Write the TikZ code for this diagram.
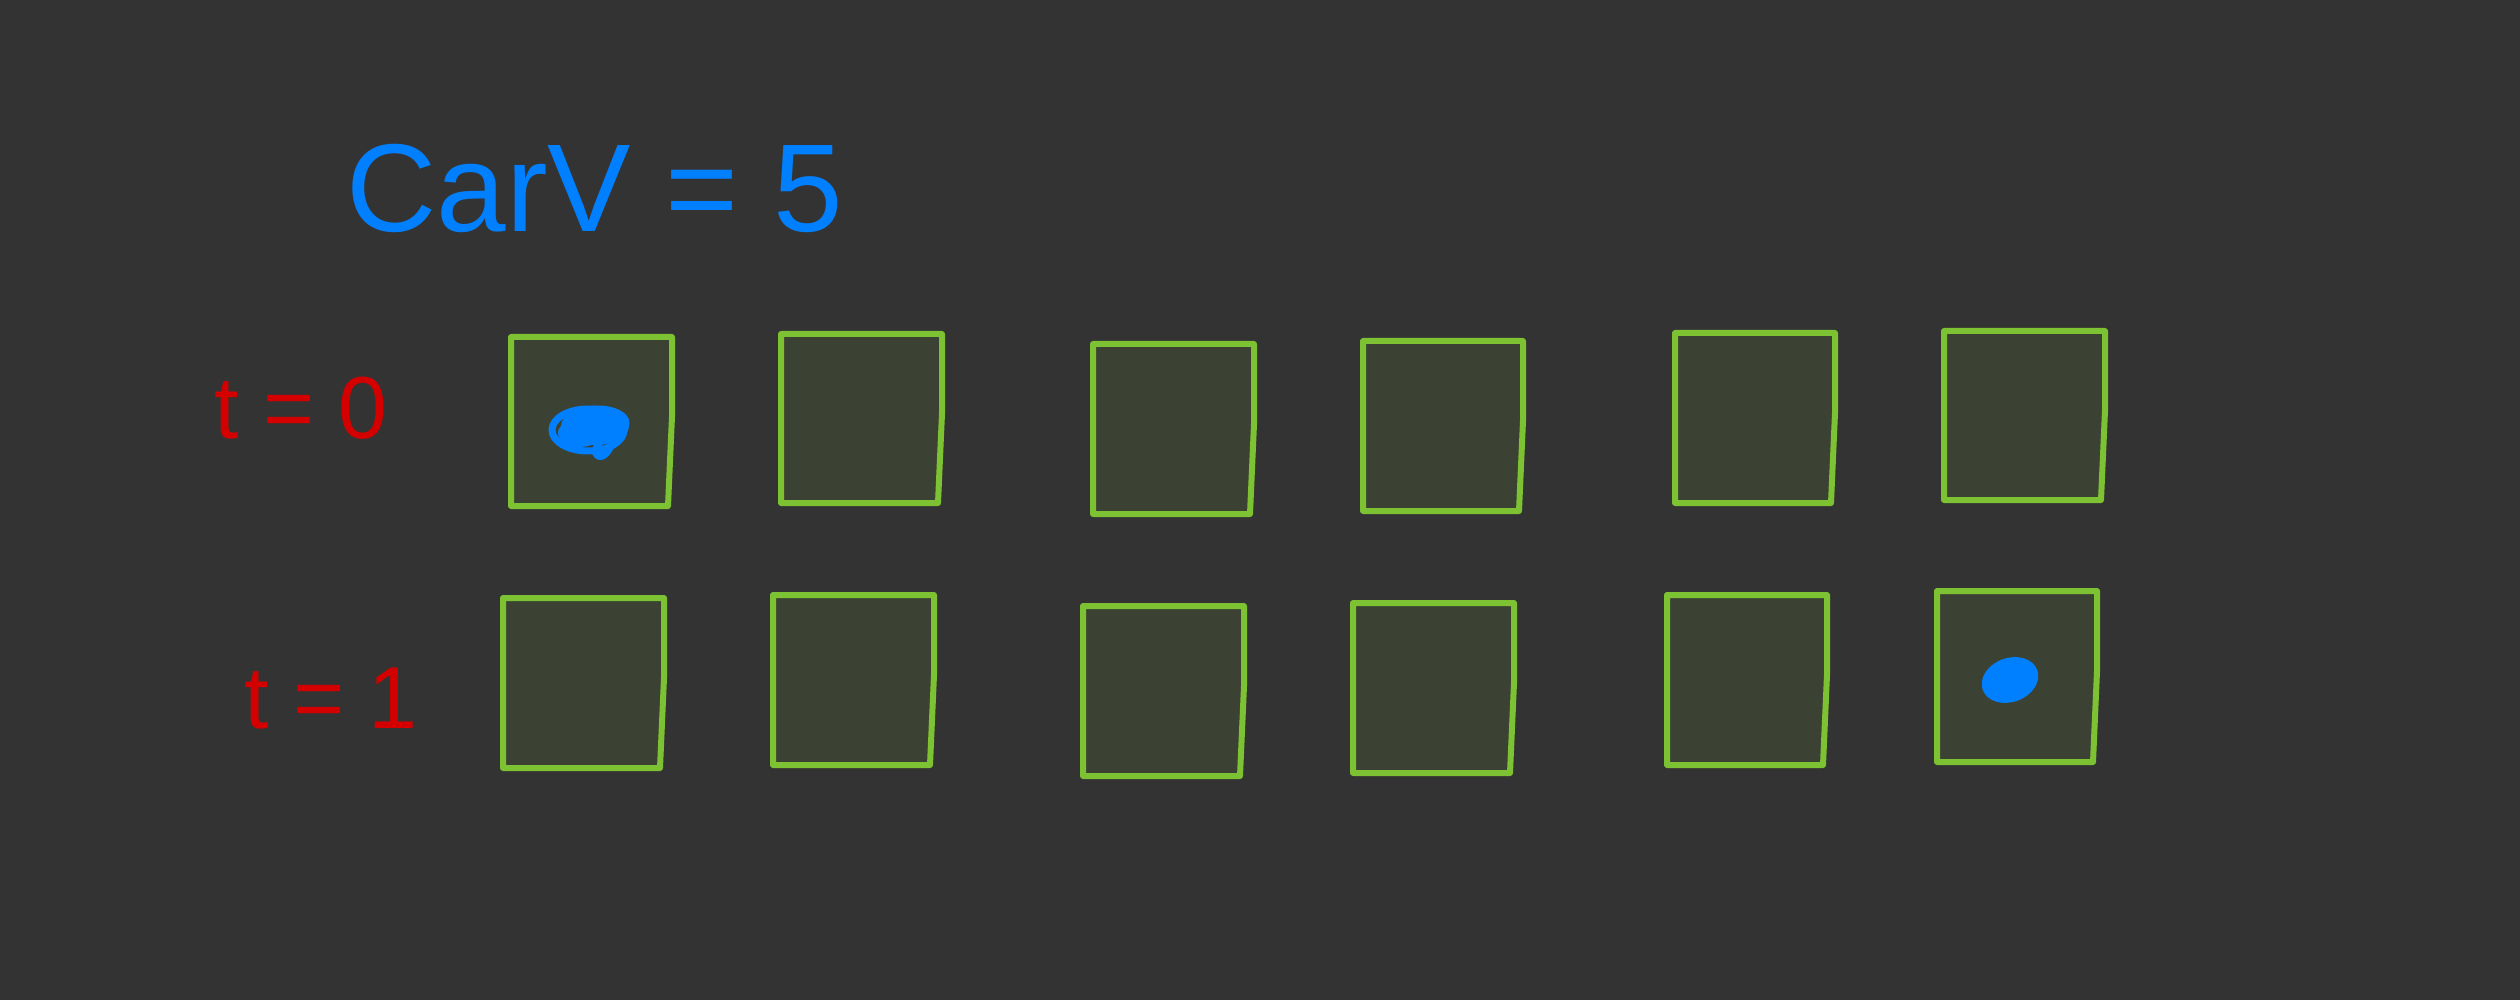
\documentclass[tikz,border=0pt]{standalone}
\usepackage{fontspec}
\setmainfont{Liberation Sans}
\definecolor{bg}{HTML}{333333}
\definecolor{cellfill}{HTML}{3C4233}
\definecolor{cellline}{HTML}{7DC232}
\definecolor{carblue}{HTML}{0080FF}
\definecolor{tred}{HTML}{D40000}
\newcommand\cellbox[5]{%
  \draw[cell] (#2,#3) -- (#4,#3) -- (#4,{#3+0.47*(#5-#3)}) -- ({#4-4},#5) -- (#2,#5) -- cycle;
  \coordinate (#1) at ({(#2+#4)/2},{(#3+#5)/2});
}
\begin{document}
\begin{tikzpicture}[x=1pt,y=-1pt,
  cell/.style={draw=cellline, fill=cellfill, line width=6pt, line join=round, line cap=round},
  scrib/.style={draw=carblue, line width=7pt, line cap=round, line join=round},
  bigtext/.style={text=carblue, font=\fontsize{125}{150}\selectfont, inner sep=0pt},
  rowlabel/.style={text=tred, font=\fontsize{88}{100}\selectfont, inner sep=0pt}]
\fill[bg] (0,0) rectangle (2520,1000);
\useasboundingbox (0,0) rectangle (2520,1000);
% title
\node[bigtext] (title) at (595,188) {CarV = 5};
% row labels
\node[rowlabel] (t0) at (301,408) {t = 0};
\node[rowlabel] (t1) at (331,699) {t = 1};
% row t=0
\cellbox{a1}{511}{337}{672}{506}
\cellbox{a2}{781}{334}{942}{503}
\cellbox{a3}{1093}{344}{1254}{514}
\cellbox{a4}{1363}{341}{1523}{511}
\cellbox{a5}{1675}{333}{1835}{503}
\cellbox{a6}{1944}{331}{2105}{500}
% row t=1
\cellbox{b1}{503}{598}{664}{768}
\cellbox{b2}{773}{595}{934}{765}
\cellbox{b3}{1083}{606}{1244}{776}
\cellbox{b4}{1353}{603}{1514}{773}
\cellbox{b5}{1667}{595}{1827}{765}
\cellbox{b6}{1937}{591}{2097}{762}
% car at t=0 (scribble)
\fill[carblue] (595,426) ellipse [x radius=34, y radius=19];
\fill[carblue] (580,433) ellipse [x radius=22, y radius=14];
\draw[scrib] (588,430) ellipse [x radius=36, y radius=21];
\draw[scrib] (598,423) ellipse [x radius=28, y radius=14];
\draw[scrib] (614,438) .. controls (610,452) and (602,460) .. (597,455) .. controls (592,450) and (600,440) .. (608,436);
% car at t=1
\fill[carblue, rotate around={20:(2010,680)}] (2010,680) ellipse [x radius=29, y radius=22];
\end{tikzpicture}
\end{document}
